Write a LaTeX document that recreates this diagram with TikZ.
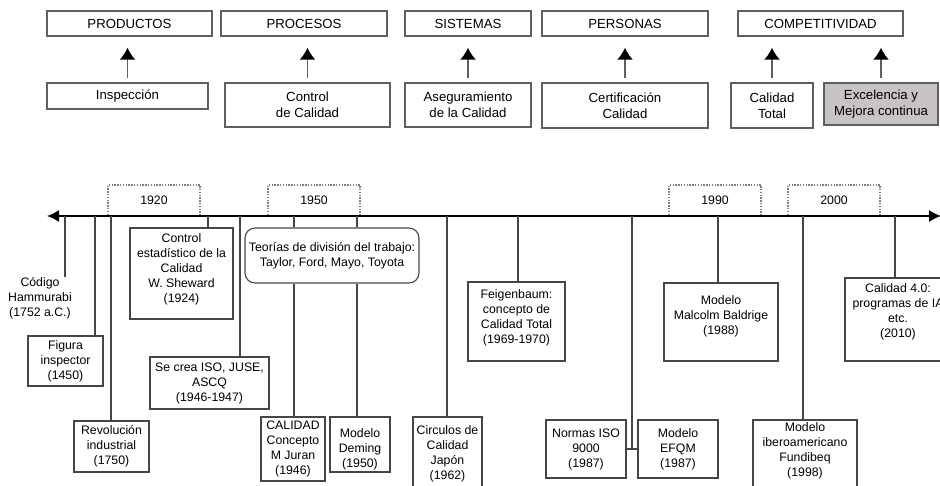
\documentclass[tikz,border=0pt]{standalone}
\usepackage{fontspec}
\setmainfont{Liberation Sans}
\usepackage{tikz}
\usetikzlibrary{arrows.meta,positioning}
\tikzset{>=latex}
\definecolor{framegray}{RGB}{70,70,70}
\definecolor{topgray}{RGB}{95,95,95}
\definecolor{shadegray}{RGB}{201,196,196}

\begin{document}
\begin{tikzpicture}[x=1pt, y=-1pt,
    topbox/.style={draw=topgray, line width=1.4pt, inner sep=0pt, align=center, text=black, font=\fontsize{13.2}{15.7}\selectfont},
    box/.style={draw=framegray, line width=1.1pt, inner sep=0pt, align=center, text=black, font=\fontsize{12.3}{15}\selectfont},
    txt/.style={inner sep=0pt, align=center, text=black, font=\fontsize{12.3}{15}\selectfont},
    yearbox/.style={draw=gray, line width=1.3pt, dash pattern=on 1.4pt off 1.4pt, inner sep=0pt, minimum width=92, minimum height=31, text=black, font=\fontsize{12.3}{15}\selectfont},
    up/.style={-{Latex[length=12pt,width=16pt,color=black]}, draw=topgray, line width=1.7pt, shorten <=4pt, shorten >=11pt},
    tick/.style={draw=framegray, line width=1.1pt}]
    \useasboundingbox (0,0) rectangle (940,486);

    % stages
    \foreach \name/\x/\w/\txt in {prod/129.5/165/PRODUCTOS, proc/304/166/PROCESOS, sist/468/126/SISTEMAS, pers/625/166/PERSONAS, comp/820.5/165/COMPETITIVIDAD}
    \node at (\x,23.5) [topbox, minimum width=\w, minimum height=25](\name){\txt};
    \node at (127.5,96) [topbox, minimum width=161, minimum height=26](insp){Inspección};
    \node at (307.5,105) [topbox, minimum width=165, minimum height=44](ctrl){Control\\de Calidad};
    \node at (468,105) [topbox, minimum width=126, minimum height=44](aseg){Aseguramiento\\de la Calidad};
    \node at (625,105.5) [topbox, minimum width=166, minimum height=45](cert){Certificación\\Calidad};
    \node at (772,105.5) [topbox, minimum width=82, minimum height=45](total){Calidad\\Total};
    \node at (881,104) [topbox, fill=shadegray, minimum width=114, minimum height=42](exc){Excelencia y\\Mejora continua};
    \foreach \b/\t in {insp/prod, ctrl/proc, aseg/sist, cert/pers, total/comp, exc/comp}
    \draw [up] (\b) -- (\b |- \t.south);

    % time line
    \foreach \yr/\x in {1920/154, 1950/314, 1990/715, 2000/834}
    \node at (\x,200.5) [yearbox](y\yr){\yr};
    \coordinate (left) at (47,216);
    \coordinate (right) at (941,216);
    \draw [{Latex[length=12pt,width=12pt]}-{Latex[length=12pt,width=12pt]}, line width=1.4pt] (left) -- (right);
    \foreach \n/\x in {ham/65, fig/95, rev/111, shew/208, iso/240, jur/294, dem/357, circ/447, feig/518, efqm/632, bald/718, ibero/803, cfour/895}
    \coordinate (t\n) at (\x,216);

    \node at (40,298) [txt](ham){Código\\Hammurabi\\(1752 a.C.)};
    \node at (65.5,361) [box, minimum width=75, minimum height=50](fig){Figura\\inspector\\(1450)};
    \node at (111.5,446.5) [box, minimum width=75, minimum height=51](rev){Revolución\\industrial\\(1750)};
    \node at (181.5,273.5) [box, minimum width=103, minimum height=91](shew){};
    \node at (181.5,269.5) [txt](shewtxt){Control\\estadístico de la\\Calidad\\W. Sheward\\(1924)};
    \node at (209.5,383) [box, minimum width=119, minimum height=52](iso){Se crea ISO, JUSE,\\ASCQ\\(1946-1947)};
    \node at (332,255.5) [box, rounded corners=10pt, minimum width=174, minimum height=55](teo){Teorías de división del trabajo:\\Taylor, Ford, Mayo, Toyota};
    \node at (293,449) [box, minimum width=64, minimum height=64](jur){CALIDAD\\Concepto\\M Juran\\(1946)};
    \node at (360,444.5) [box, minimum width=60, minimum height=55](dem){};
    \node at (360,449) [txt](demtxt){Modelo\\Deming\\(1950)};
    \node at (447.5,453.5) [box, minimum width=69, minimum height=73](circ){Circulos de\\Calidad\\Japón\\(1962)};
    \node at (516.5,321.5) [box, minimum width=97, minimum height=79](feig){};
    \node at (516.5,317.5) [txt](feigtxt){Feigenbaum:\\concepto de\\Calidad Total\\(1969-1970)};
    \node at (586,449) [box, minimum width=80, minimum height=58](norm){Normas ISO\\9000\\(1987)};
    \node at (678,449) [box, minimum width=80, minimum height=58](efqm){Modelo\\EFQM\\(1987)};
    \node at (721,322) [box, minimum width=114, minimum height=78](bald){};
    \node at (721,316.5) [txt](baldtxt){Modelo\\Malcolm Baldrige\\(1988)};
    \node at (805,455) [box, minimum width=104, minimum height=70](ibero){};
    \node at (805,451) [txt](iberotxt){Modelo\\iberoamericano\\Fundibeq\\(1998)};
    \node at (898,319.5) [box, minimum width=106, minimum height=83](cfour){};
    \node at (898,312) [txt](cfourtxt){Calidad 4.0:\\programas de IA\\etc.\\(2010)};

    \foreach \n in {ham, fig, rev, shew, iso, circ, feig, bald, ibero, cfour}
    \draw [tick] (t\n) -- (t\n |- \n.north);
    \draw [tick] (tjur) -- (tjur |- teo.north);
    \draw [tick] (tjur |- teo.south) -- (tjur |- jur.north);
    \draw [tick] (tdem) -- (tdem |- teo.north);
    \draw [tick] (tdem |- teo.south) -- (tdem |- dem.north);
    \draw [tick] (tefqm) -- (tefqm |- norm.east);
    \draw [tick] (norm.east) -- (efqm.west);
\end{tikzpicture}
\end{document}
